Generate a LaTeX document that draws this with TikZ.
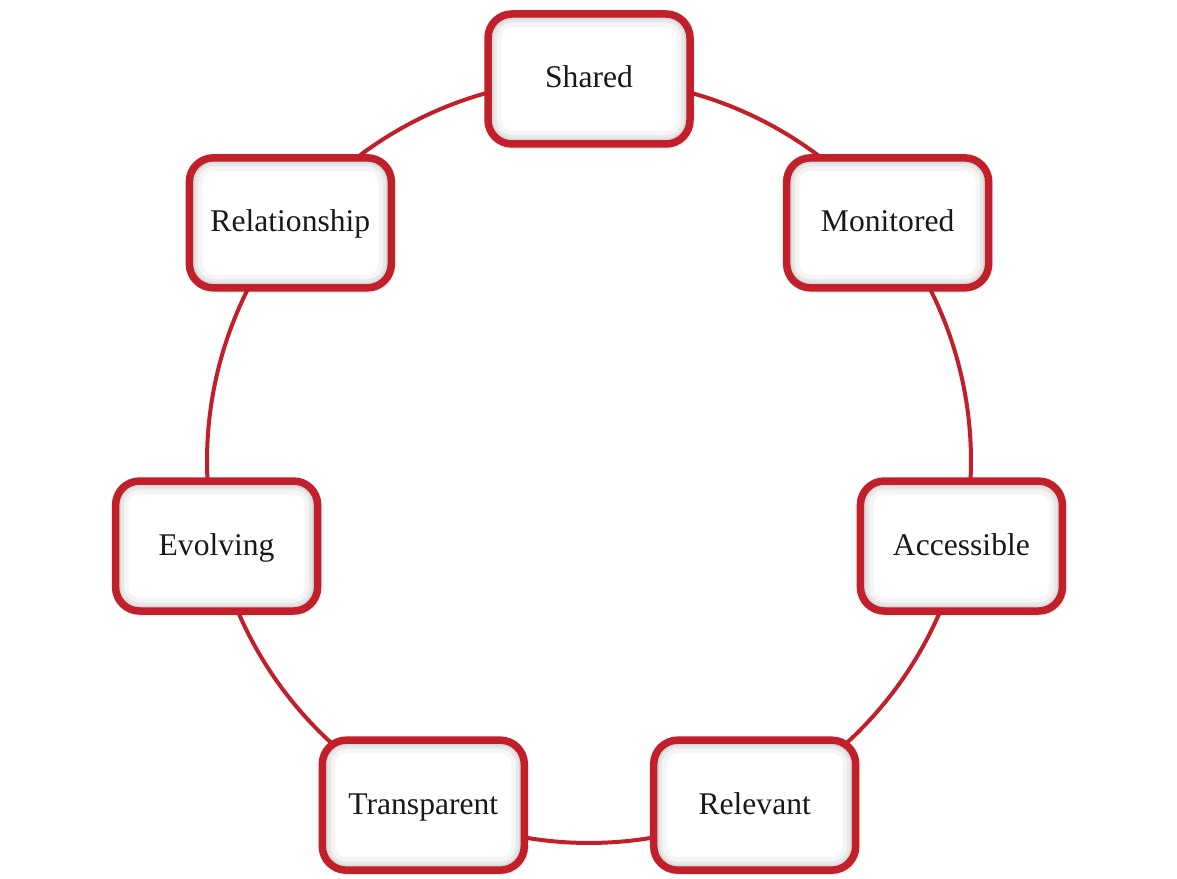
\documentclass[tikz,border=0pt]{standalone}
\usepackage{fontspec}
\setmainfont{Liberation Serif}
\usetikzlibrary{shadows.blur}
\definecolor{ringred}{HTML}{C1202B}
\tikzset{
  ring/.style={draw=ringred, line width=4pt},
  box/.style={draw=ringred, line width=7.5pt, fill=white, rounded corners=24pt,
    minimum width=202pt, minimum height=130pt, inner sep=0pt,
    blur shadow={shadow xshift=1.5pt, shadow yshift=-2pt, shadow blur radius=4pt, shadow opacity=35},
    path picture={
      \draw[gray!8, line width=26pt, rounded corners=24pt]
        (path picture bounding box.south west) rectangle (path picture bounding box.north east);
      \draw[gray!18, line width=17pt, rounded corners=24pt]
        (path picture bounding box.south west) rectangle (path picture bounding box.north east);
      \draw[gray!30, line width=11pt, rounded corners=24pt]
        (path picture bounding box.south west) rectangle (path picture bounding box.north east);
    }},
  lbl/.style={font=\fontsize{31.6}{34}\selectfont, text=black!90, inner sep=1pt,
    text height=18pt, text depth=0pt}
}
\begin{document}
\begin{tikzpicture}[x=1pt,y=1pt]
\useasboundingbox (0,0) rectangle (1177,878);
\coordinate (c) at (589,417);
\coordinate (p0) at ([shift={(c)}]90:382pt);
\coordinate (p1) at ([shift={(c)}]141.43:382pt);
\coordinate (p2) at ([shift={(c)}]192.86:382pt);
\coordinate (p3) at ([shift={(c)}]244.29:382pt);
\coordinate (p4) at ([shift={(c)}]295.71:382pt);
\coordinate (p5) at ([shift={(c)}]347.14:382pt);
\coordinate (p6) at ([shift={(c)}]38.57:382pt);
% connectors along the ring
\draw[ring] (p0) arc[start angle=90, delta angle=51.43, radius=382pt];
\draw[ring] (p1) arc[start angle=141.43, delta angle=51.43, radius=382pt];
\draw[ring] (p2) arc[start angle=192.86, delta angle=51.43, radius=382pt];
\draw[ring] (p3) arc[start angle=244.29, delta angle=51.43, radius=382pt];
\draw[ring] (p4) arc[start angle=295.71, delta angle=51.43, radius=382pt];
\draw[ring] (p5) arc[start angle=347.14, delta angle=51.43, radius=382pt];
\draw[ring] (p6) arc[start angle=38.57, delta angle=51.43, radius=382pt];
% boxes
\node[box] (b0) at (p0) {};
\node[box] (b1) at (p1) {};
\node[box] (b2) at (p2) {};
\node[box] (b3) at (p3) {};
\node[box] (b4) at (p4) {};
\node[box] (b5) at (p5) {};
\node[box] (b6) at (p6) {};
% labels
\node[lbl] (t0) at (b0) {Shared};
\node[lbl] (t1) at (b1) {Relationship};
\node[lbl] (t2) at (b2) {Evolving};
\node[lbl] (t3) at (b3) {Transparent};
\node[lbl] (t4) at (b4) {Relevant};
\node[lbl] (t5) at (b5) {Accessible};
\node[lbl] (t6) at (b6) {Monitored};
\end{tikzpicture}
\end{document}
